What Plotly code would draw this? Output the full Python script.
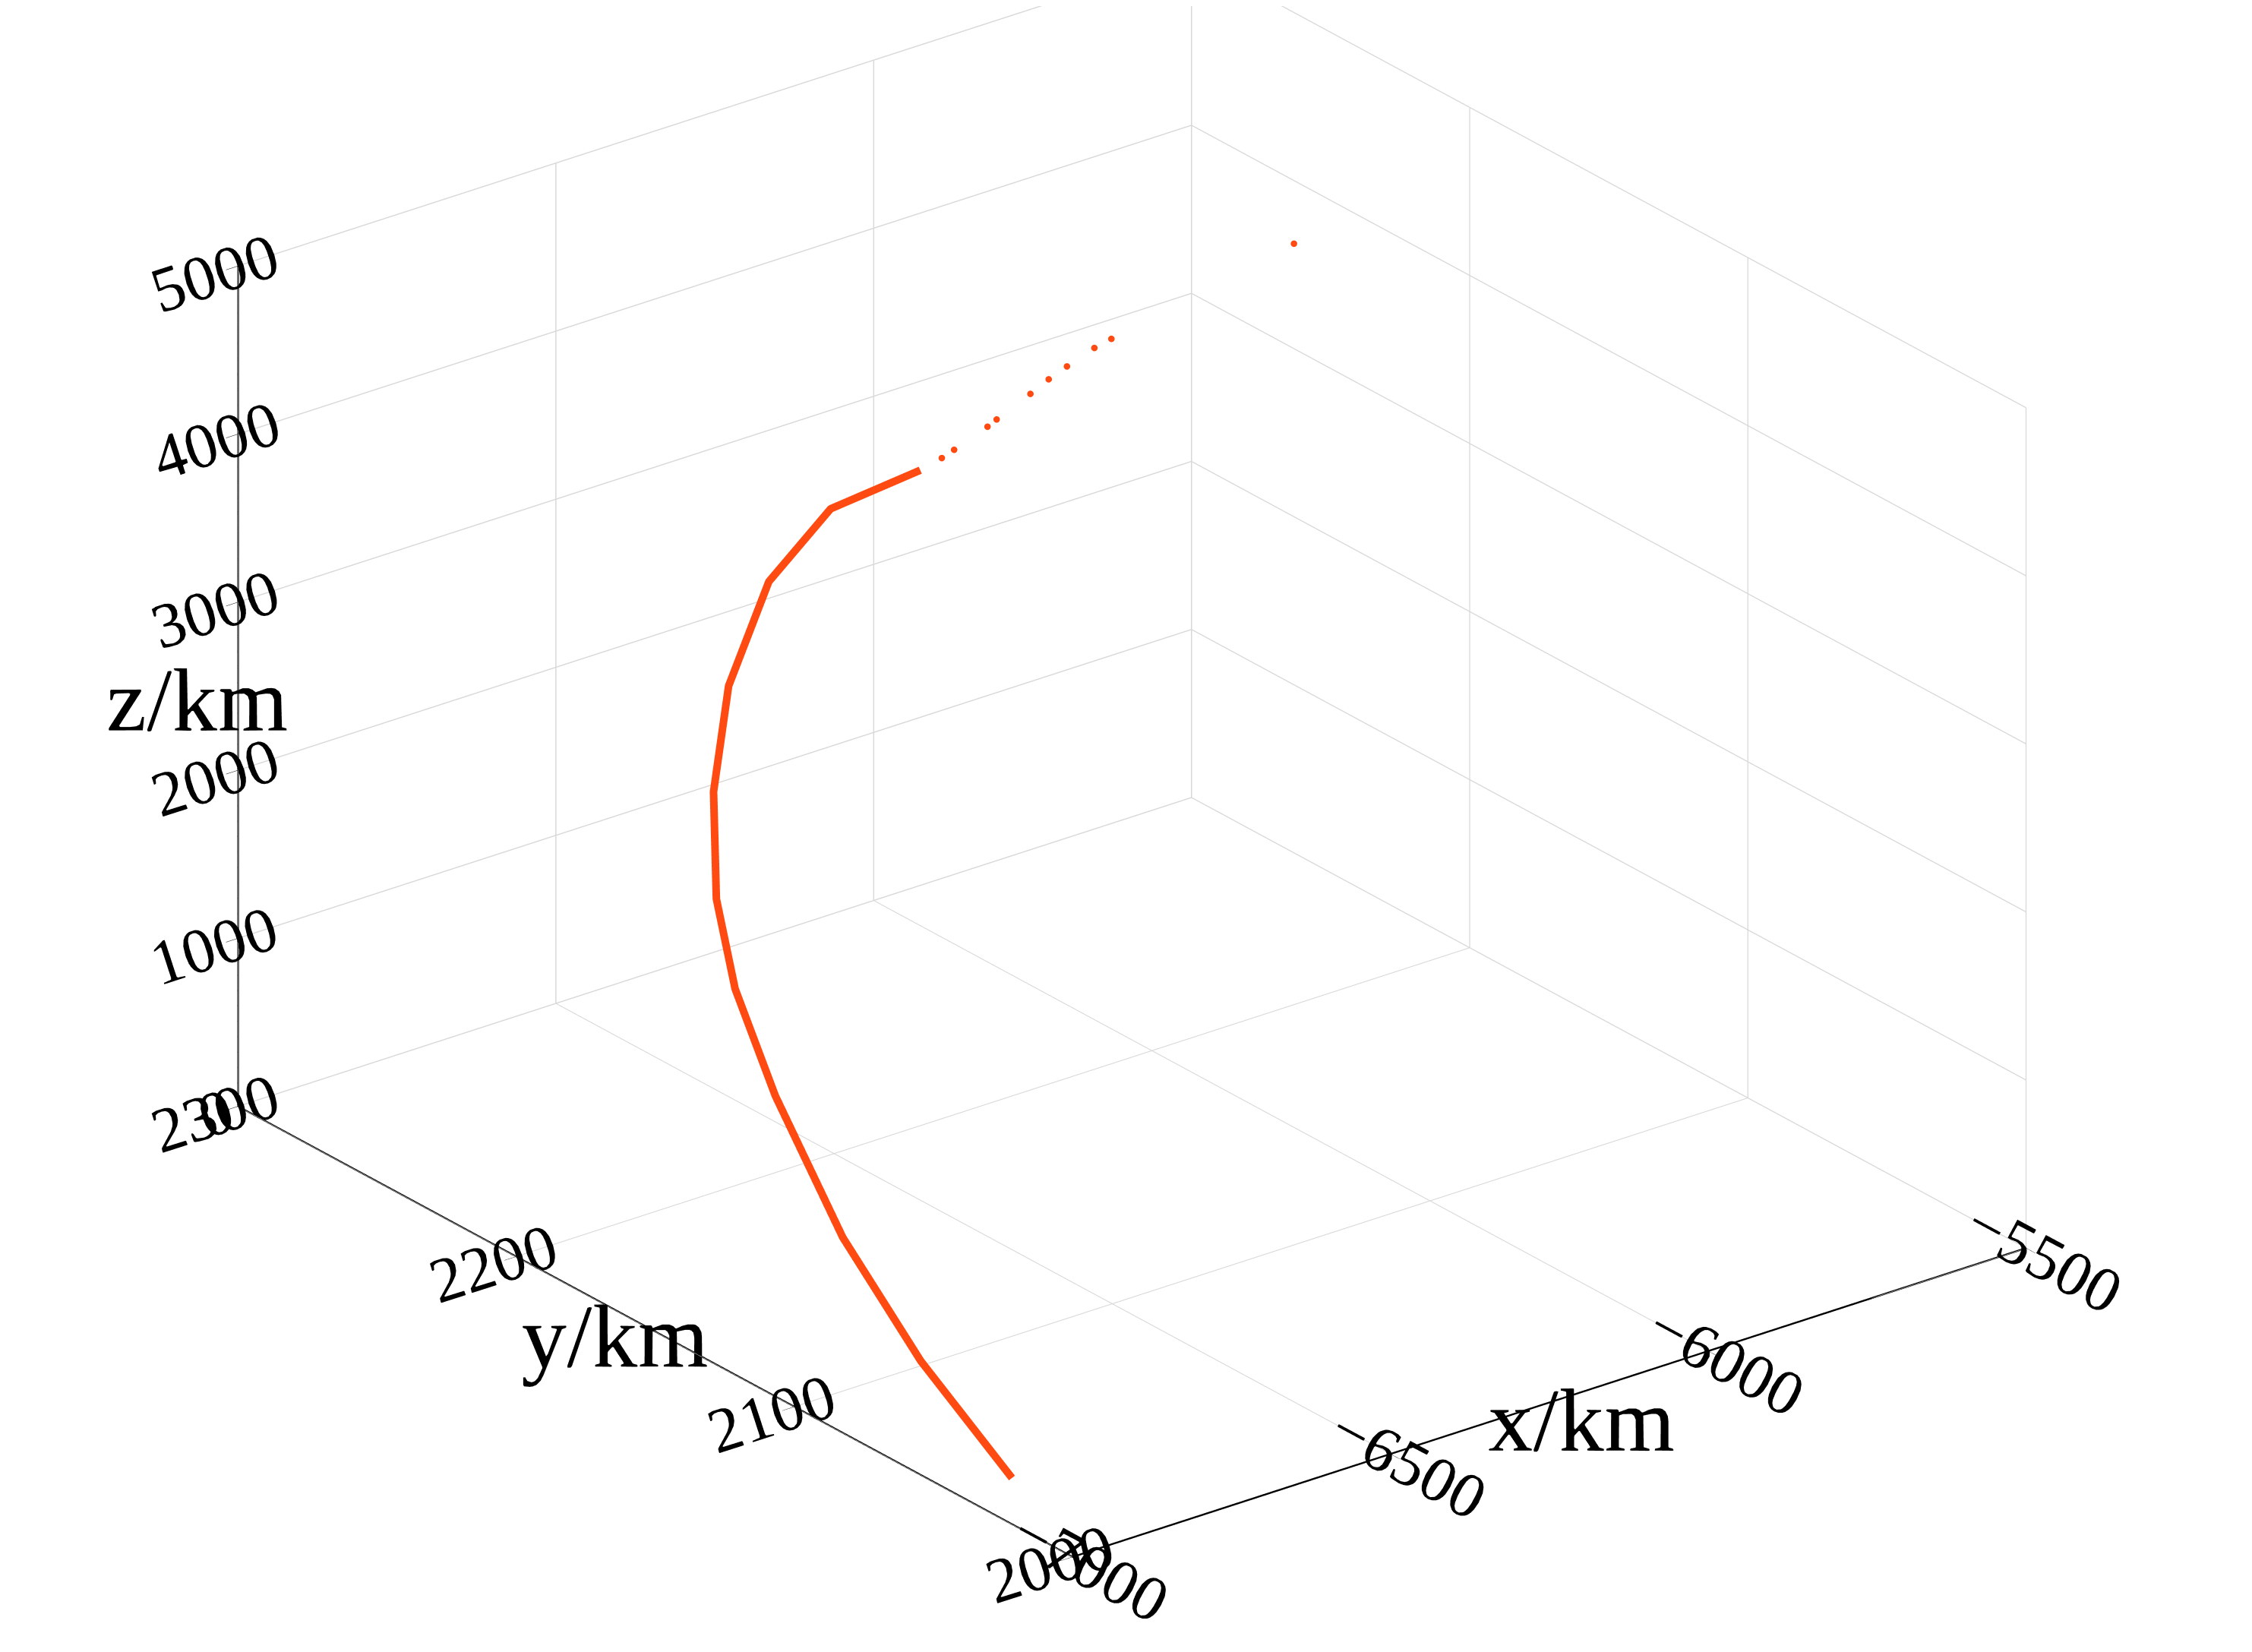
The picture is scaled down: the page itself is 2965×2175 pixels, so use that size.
import plotly.graph_objects as go

# solid part of the trajectory (km)
x_solid = [-6916, -6915, -6889, -6820, -6787, -6764, -6694, -6609, -6502, -6431, -6395]
y_solid = [2041, 2074, 2108, 2148, 2170, 2182, 2199, 2213, 2223, 2217, 2193]
z_solid = [0, 400, 800, 1200, 1600, 2000, 2400, 2800, 3200, 3600, 4000]

# sparse points at the upper end
x_dots = [-6370, -6355, -6320, -6310, -6270, -6250, -6230, -6200, -6182, -5921]
y_dots = [2191, 2190, 2186, 2185, 2182, 2180, 2178, 2175, 2173, 2167]
z_dots = [4060, 4100, 4230, 4270, 4400, 4480, 4550, 4650, 4700, 5000]

x_ticks = [-7000, -6500, -6000, -5500]
y_ticks = [2000, 2100, 2200, 2300]
z_ticks = [0, 1000, 2000, 3000, 4000, 5000]

RED = '#FF4A12'
FONT = 'Liberation Serif'

fig = go.Figure()
fig.add_trace(go.Scatter3d(x=x_solid, y=y_solid, z=z_solid, mode='lines',
                           line=dict(color=RED, width=20), showlegend=False))
fig.add_trace(go.Scatter3d(x=x_dots, y=y_dots, z=z_dots, mode='markers',
                           marker=dict(color=RED, size=5), showlegend=False))


def ax(title, ticks, rng):
    return dict(title=dict(text=title, font=dict(family=FONT, size=120)),
                tickvals=ticks, ticktext=[str(t).replace('-', '−') for t in ticks],
                range=rng, tickfont=dict(family=FONT, size=32, color='black'),
                showgrid=True, gridcolor='#D8D8D8', gridwidth=3,
                showline=True, linecolor='black', linewidth=5,
                ticks='outside', tickcolor='black', ticklen=20,
                showbackground=False, zeroline=False, showspikes=False)


fig.update_layout(
    width=2965, height=2175, paper_bgcolor='white',
    margin=dict(l=0, r=0, t=0, b=0),
    font=dict(family=FONT, color='black'),
    scene=dict(
        xaxis=ax('x/km', x_ticks, [-7000, -5500]),
        yaxis=ax('y/km', y_ticks, [2000, 2300]),
        zaxis=ax('z/km', z_ticks, [0, 5000]),
        aspectmode='manual', aspectratio=dict(x=1.46, y=1.65, z=1.12),
        camera=dict(eye=dict(x=-1.144, y=-1.477, z=0.76),
                    center=dict(x=0, y=0, z=-0.1),
                    projection=dict(type='orthographic')),
    ),
)
fig.write_html("out.html")
